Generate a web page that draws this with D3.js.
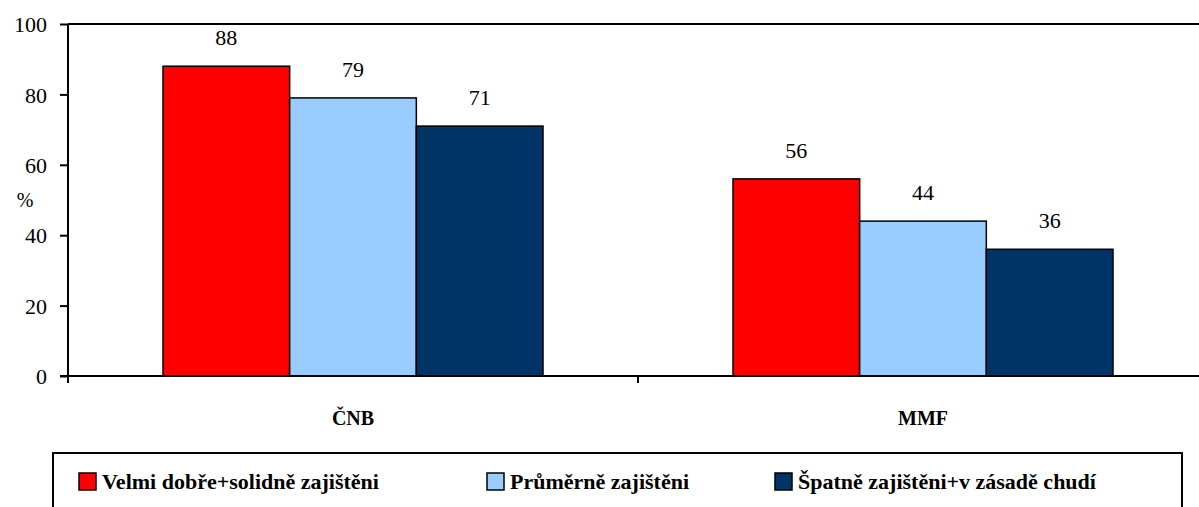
<!DOCTYPE html>
<html>
<head>
<meta charset="utf-8">
<script src="https://cdn.jsdelivr.net/npm/d3@7"></script>
<style>
  body { margin: 0; background: #fff; }
  svg text { font-family: "Times New Roman", Times, Tinos, "Nimbus Roman", "Nimbus Roman No9 L", "Noto Serif", "DejaVu Serif", "Liberation Serif", serif; }
</style>
</head>
<body>
<svg id="chart" width="1199" height="507"></svg>
<script>
const categories = ["ČNB", "MMF"];
const seriesNames = ["Velmi dobře+solidně zajištěni", "Průměrně zajištěni", "Špatně zajištěni+v zásadě chudí"];
const seriesColors = ["#ff0000", "#99ccff", "#003366"];
const valuesVelmi = [88, 56];
const valuesPrumer = [79, 44];
const valuesSpatne = [71, 36];
const yTicks = [0, 20, 40, 60, 80, 100];

const series = [valuesVelmi, valuesPrumer, valuesSpatne];

const svg = d3.select("#chart");
const plotLeft = 68, plotRight = 1208, plotTop = 24, plotBottom = 376;

let x = d3.scaleBand()
  .domain(categories)
  .range([plotLeft, plotRight])
  .paddingInner(0)
  .paddingOuter(0);
let inner = d3.scaleBand()
  .domain(d3.range(series.length))
  .range([x.bandwidth() / 6, x.bandwidth() * 5 / 6]);
let y = d3.scaleLinear()
  .domain([0, 100])
  .range([plotBottom, plotTop]);

// top frame line
svg.append("line")
  .attr("x1", plotLeft).attr("x2", 1199)
  .attr("y1", plotTop).attr("y2", plotTop)
  .attr("stroke", "#000").attr("stroke-width", 2);

// bars
categories.forEach((c, ci) => {
  series.forEach((vals, si) => {
    svg.append("rect")
      .attr("x", x(c) + inner(si))
      .attr("y", y(vals[ci]))
      .attr("width", inner.bandwidth())
      .attr("height", y(0) - y(vals[ci]))
      .style("fill", seriesColors[si])
      .style("stroke", "#000")
      .style("stroke-width", 1.5);
    svg.append("text")
      .attr("x", x(c) + inner(si) + inner.bandwidth() / 2)
      .attr("y", y(vals[ci]) - 21)
      .text(vals[ci])
      .style("text-anchor", "middle")
      .style("font-size", "22px");
  });
});

// y axis
svg.append("g")
  .attr("transform", "translate(" + plotLeft + ",0)")
  .call(d3.axisLeft(y).tickValues(yTicks).tickSize(8).tickPadding(13))
  .call(g => g.attr("font-family", null))
  .call(g => g.select(".domain").attr("stroke-width", 2).attr("d", "M0," + (plotBottom + 7) + "V" + plotTop))
  .call(g => g.selectAll(".tick line").attr("stroke-width", 2))
  .call(g => g.selectAll(".tick text").style("font-size", "22px").attr("dy", "0.35em"));

svg.append("text")
  .attr("x", 25).attr("y", 207)
  .text("%")
  .style("text-anchor", "middle")
  .style("font-size", "20px");

// x axis
svg.append("line")
  .attr("x1", plotLeft - 8).attr("x2", 1199)
  .attr("y1", plotBottom).attr("y2", plotBottom)
  .attr("stroke", "#000").attr("stroke-width", 2);
const bounds = [plotLeft].concat(categories.map(c => x(c) + x.bandwidth()));
svg.selectAll(".xtick")
  .data(bounds)
  .enter()
  .append("line")
    .attr("x1", d => d).attr("x2", d => d)
    .attr("y1", plotBottom).attr("y2", plotBottom + 7)
    .attr("stroke", "#000").attr("stroke-width", 2);
svg.selectAll(".xlabel")
  .data(categories)
  .enter()
  .append("text")
    .attr("x", d => x(d) + x.bandwidth() / 2)
    .attr("y", 425)
    .text(d => d)
    .style("text-anchor", "middle")
    .style("font-size", "20px")
    .style("font-weight", "bold");

// legend
svg.append("rect")
  .attr("x", 53).attr("y", 453)
  .attr("width", 1129).attr("height", 70)
  .style("fill", "none")
  .style("stroke", "#000")
  .style("stroke-width", 2);
const legendX = [79, 487, 775];
seriesNames.forEach((name, i) => {
  svg.append("rect")
    .attr("x", legendX[i]).attr("y", 473)
    .attr("width", 17).attr("height", 17)
    .style("fill", seriesColors[i])
    .style("stroke", "#000")
    .style("stroke-width", 1.5);
  svg.append("text")
    .attr("x", legendX[i] + 23).attr("y", 489)
    .text(name)
    .style("font-size", "22px")
    .style("font-weight", "bold");
});
</script>
</body>
</html>
